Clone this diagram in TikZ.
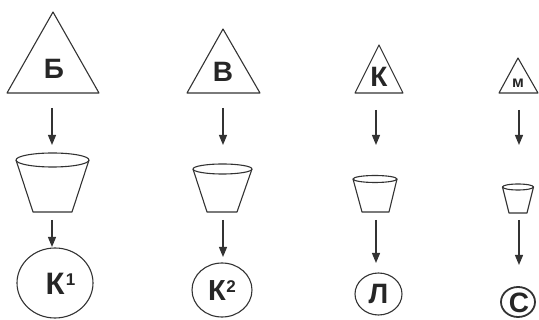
\documentclass[tikz,border=0pt]{standalone}
\usepackage{fontspec}
\setmainfont{Liberation Sans}
\usetikzlibrary{arrows.meta}
\begin{document}
\begin{tikzpicture}[x=1pt,y=-1pt, line join=round,
  shp/.style={draw=black!80, line width=1.1pt},
  lbl/.style={font=\bfseries\fontsize{28}{28}\selectfont, inner sep=0pt, text=black!85},
  sup/.style={font=\bfseries\fontsize{17}{17}\selectfont, inner sep=0pt, text=black!85},
  arr/.style={-{Triangle[width=8pt,length=10pt]}, line width=1.2pt, draw=black!80}]
\useasboundingbox (0,0) rectangle (539,320);
% ---------- column 1
\draw[shp] (53,12) -- (99,93) -- (7,93) -- cycle;
\node[lbl] (t1) at (54,69) {Б};
\coordinate (a1s) at (52,108); \coordinate (a1e) at (52,145);
\draw[arr] (a1s) -- (a1e);
\draw[shp] (16,160) -- (33,212) -- (72,212) -- (89,160);
\draw[shp] (52.5,160) ellipse [x radius=36.5, y radius=7];
\coordinate (b1s) at (52,220); \coordinate (b1e) at (52,247);
\draw[arr] (b1s) -- (b1e);
\draw[shp] (55,283) ellipse [x radius=38, y radius=35];
\node[lbl,font=\bfseries\fontsize{31}{31}\selectfont] (c1) at (55,284) {К};
\node[sup,anchor=north west,xshift=1pt] (c1s) at (c1.north east) {1};
% ---------- column 2
\draw[shp] (223,29) -- (260,93) -- (187,93) -- cycle;
\node[lbl] (t2) at (223,72) {В};
\coordinate (a2s) at (223,108); \coordinate (a2e) at (223,145);
\draw[arr] (a2s) -- (a2e);
\draw[shp] (193,169) -- (207,212) -- (237,212) -- (252,169);
\draw[shp] (222.5,169) ellipse [x radius=29.5, y radius=5];
\coordinate (b2s) at (223,220); \coordinate (b2e) at (223,257);
\draw[arr] (b2s) -- (b2e);
\draw[shp] (222,290) ellipse [x radius=30, y radius=27];
\node[lbl,font=\bfseries\fontsize{29}{29}\selectfont] (c2) at (217,291) {К};
\node[sup,anchor=north west] (c2s) at (c2.north east) {2};
% ---------- column 3
\draw[shp] (379,45) -- (403,93) -- (355,93) -- cycle;
\node[lbl] (t3) at (379,77) {К};
\coordinate (a3s) at (376,110); \coordinate (a3e) at (376,145);
\draw[arr] (a3s) -- (a3e);
\draw[shp] (353,179) -- (362,212) -- (389,212) -- (397,179);
\draw[shp] (375,179) ellipse [x radius=22, y radius=3.5];
\coordinate (b3s) at (376,220); \coordinate (b3e) at (376,263);
\draw[arr] (b3s) -- (b3e);
\draw[shp] (378.5,294) ellipse [x radius=23.5, y radius=21];
\node[lbl] (c3) at (378.5,294) {Л};
% ---------- column 4
\draw[shp] (518,58) -- (538,93) -- (499,93) -- cycle;
\node[lbl,font=\bfseries\fontsize{16}{16}\selectfont] (t4) at (518,83) {м};
\coordinate (a4s) at (519,110); \coordinate (a4e) at (519,145);
\draw[arr] (a4s) -- (a4e);
\draw[shp] (502.5,187) -- (509,213) -- (527,213) -- (533.5,187);
\draw[shp] (518,187) ellipse [x radius=15.5, y radius=3];
\coordinate (b4s) at (519,220); \coordinate (b4e) at (519,265);
\draw[arr] (b4s) -- (b4e);
\draw[shp,line width=1.8pt] (518,302) ellipse [x radius=17, y radius=15];
\node[lbl] (c4) at (519,303) {С};
\end{tikzpicture}
\end{document}
